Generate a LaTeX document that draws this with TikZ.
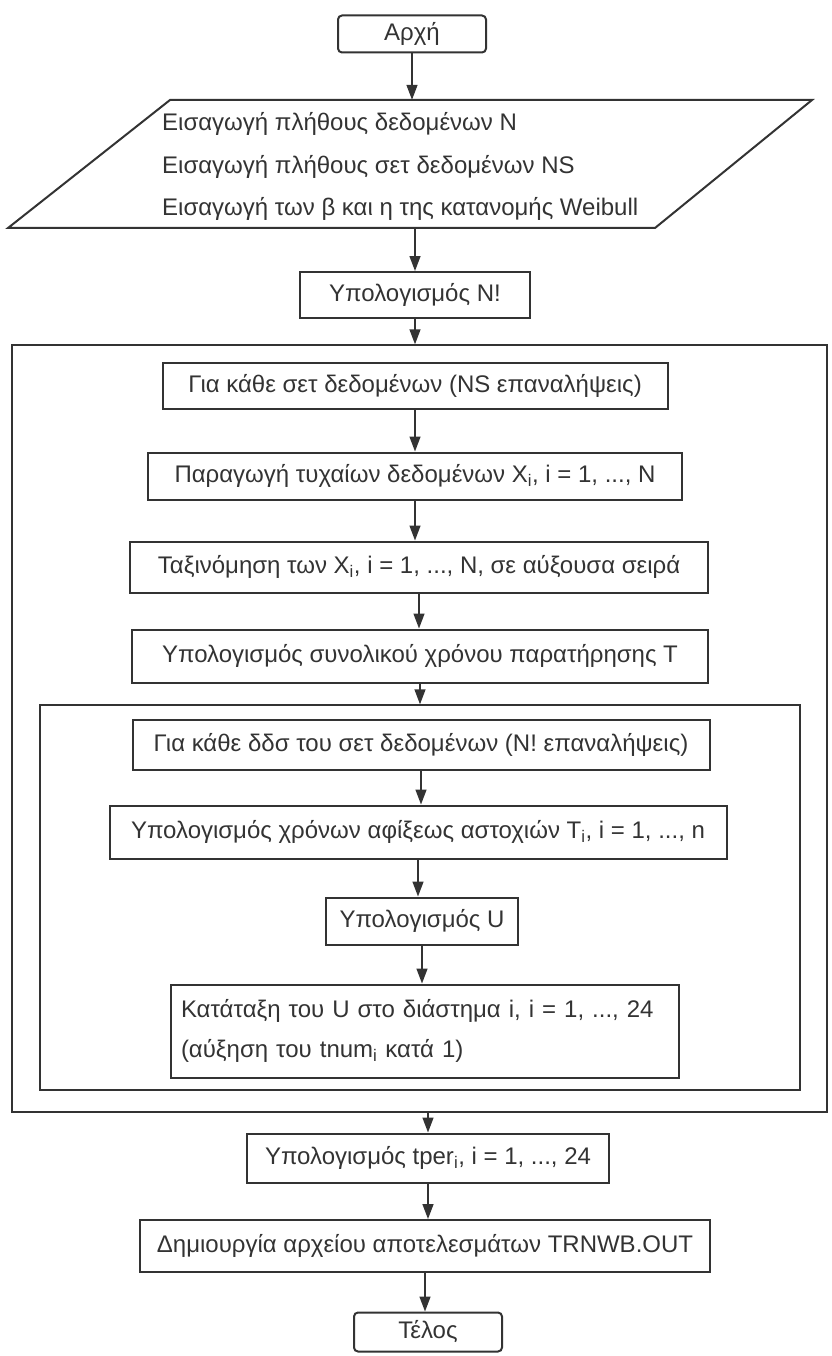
\documentclass[tikz,border=0pt]{standalone}
\usepackage{fontspec}
\setmainfont{Liberation Sans}
\usetikzlibrary{arrows.meta,calc}
\definecolor{ink}{HTML}{333333}
\tikzset{
  proc/.style={draw=ink, line width=2pt, inner sep=0pt, align=center, text=ink, font=\fontsize{24}{28}\selectfont},
  term/.style={proc, rounded corners=4pt},
  frame/.style={draw=ink, line width=1.4pt, inner sep=0pt},
  conn/.style={draw=ink, line width=1.4pt, -{Triangle[length=15pt,width=11pt]}},
  txt/.style={inner sep=0pt, anchor=west, font=\fontsize{24}{28}\selectfont, text=ink}
}
\begin{document}
\begin{tikzpicture}[x=1pt,y=-1pt]
\useasboundingbox (0,0) rectangle (831,1356);
% start
\node[term, minimum width=148pt, minimum height=37pt] (start) at (412,34) {Αρχή};
% input parallelogram
\node[inner sep=0pt, minimum width=642pt, minimum height=128pt] (para) at (412,164) {};
\draw[draw=ink, line width=2pt, line join=miter] (170,100) -- (812,100) -- (655,228) -- (8,228) -- cycle;
\node[txt] (in1) at (162,124) {Εισαγωγή πλήθους δεδομένων N};
\node[txt] (in2) at (162,167) {Εισαγωγή πλήθους σετ δεδομένων NS};
\node[txt] (in3) at (162,209) {Εισαγωγή των β και η της κατανομής Weibull};
% N!
\node[proc, minimum width=230pt, minimum height=46pt] (nfact) at (415,295) {Υπολογισμός N!};
% outer loop frame
\node[frame, minimum width=815pt, minimum height=767pt] (outer) at (419.5,728.5) {};
\node[proc, minimum width=505pt, minimum height=46pt] (ns) at (415,386) {Για κάθε σετ δεδομένων (NS επαναλήψεις)};
\node[proc, minimum width=534pt, minimum height=47pt] (gen) at (415,476) {Παραγωγή τυχαίων δεδομένων X\textsubscript{i}, i = 1, ..., N};
\node[proc, minimum width=578pt, minimum height=51pt] (sort) at (419,567) {Ταξινόμηση των X\textsubscript{i}, i = 1, ..., N, σε αύξουσα σειρά};
\node[proc, minimum width=576pt, minimum height=53pt] (total) at (420,656) {Υπολογισμός συνολικού χρόνου παρατήρησης T};
% inner loop frame
\node[frame, minimum width=760pt, minimum height=385pt] (inner) at (420,897.5) {};
\node[proc, minimum width=577pt, minimum height=50pt] (perm) at (421,745) {Για κάθε δδσ του σετ δεδομένων (N! επαναλήψεις)};
\node[proc, minimum width=617pt, minimum height=53pt] (arr) at (418,832) {Υπολογισμός χρόνων αφίξεως αστοχιών T\textsubscript{i}, i = 1, ..., n};
\node[proc, minimum width=192pt, minimum height=47pt] (uval) at (422,921) {Υπολογισμός U};
\node[proc, minimum width=508pt, minimum height=93pt, text width=488pt, align=left] (cls) at (425,1031) {Κατάταξη του U στο διάστημα i, i = 1, ..., 24\\[12pt](αύξηση του tnum\textsubscript{i} κατά 1)};
% after loops
\node[proc, minimum width=362pt, minimum height=49pt] (tper) at (428,1158) {Υπολογισμός tper\textsubscript{i}, i = 1, ..., 24};
\node[proc, minimum width=570pt, minimum height=52pt] (out) at (425,1246) {Δημιουργία αρχείου αποτελεσμάτων TRNWB.OUT};
\node[term, minimum width=148pt, minimum height=39pt] (stop) at (428,1332) {Τέλος};
% connectors
\draw[conn] (start.south) -- (start.south |- para.north);
\draw[conn] (nfact.north |- para.south) -- (nfact.north);
\draw[conn] (nfact.south) -- (nfact.south |- outer.north);
\draw[conn] (ns.south) -- (ns.south |- gen.north);
\draw[conn] (gen.south) -- (gen.south |- sort.north);
\draw[conn] (sort.south) -- (sort.south |- total.north);
\draw[conn] (total.south) -- (total.south |- inner.north);
\draw[conn] (perm.south) -- (perm.south |- arr.north);
\draw[conn] (arr.south) -- (arr.south |- uval.north);
\draw[conn] (uval.south) -- (uval.south |- cls.north);
\draw[conn] (tper.north |- outer.south) -- (tper.north);
\draw[conn] (tper.south) -- (tper.south |- out.north);
\draw[conn] (out.south) -- (out.south |- stop.north);
\end{tikzpicture}
\end{document}
